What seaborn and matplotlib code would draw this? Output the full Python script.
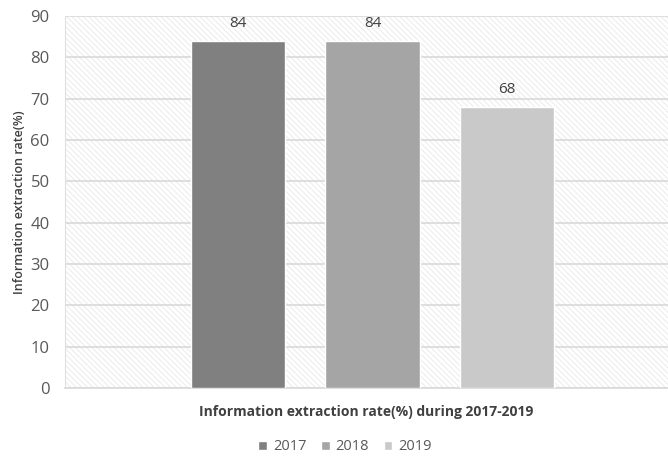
import matplotlib
matplotlib.use("Agg")
import matplotlib.pyplot as plt
import seaborn as sns
import pandas as pd
from matplotlib.patches import Rectangle

years = ["2017", "2018", "2019"]
values = [84, 84, 68]
category = "Information extraction rate(%) during 2017-2019"
colors = ["#808080", "#a5a5a5", "#c9c9c9"]
yticks = [0, 10, 20, 30, 40, 50, 60, 70, 80, 90]

df = pd.DataFrame({"cat": [category] * 3, "year": years, "value": values})

sns.set_style("white")
plt.rcParams["font.family"] = ["Open Sans", "DejaVu Sans"]
plt.rcParams["hatch.color"] = "#ebebeb"
plt.rcParams["hatch.linewidth"] = 0.7

fig = plt.figure(figsize=(6.68, 4.57), dpi=100)
ax = fig.add_axes([65 / 668, 1 - 388 / 457, 603 / 668, 372 / 457])

# hatched background
bg = Rectangle((0, 0), 1, 1, transform=ax.transAxes, facecolor="white",
               edgecolor="#ebebeb", hatch="\\\\\\\\\\\\", linewidth=0, zorder=0)
ax.add_patch(bg)

sns.barplot(data=df, x="cat", y="value", hue="year", palette=colors,
            width=0.67, gap=0.3, ax=ax, zorder=3, legend=True, saturation=1)

for c in ax.containers:
    ax.bar_label(c, labels=[f"{v:g}" for v in c.datavalues], padding=7,
                 fontsize=11, color="#404040")

ax.set_ylim(0, 90)
ax.set_xlim(-0.51, 0.49)
ax.set_yticks(yticks)
ax.set_yticklabels([str(t) for t in yticks], fontsize=12, color="#595959")
ax.tick_params(axis="y", length=0, pad=11)
ax.set_xticks([])
ax.grid(axis="y", color="#d9d9d9", linewidth=1.2, zorder=1)
ax.set_axisbelow(True)
for s in ["top", "right"]:
    ax.spines[s].set_visible(False)
ax.spines["left"].set_color("#e0e0e0")
ax.spines["bottom"].set_color("#d9d9d9")
ax.spines["bottom"].set_linewidth(1.2)

ax.set_ylabel("Information extraction rate(%)", fontsize=9, fontweight="semibold",
              color="#404040", labelpad=3)
ax.set_xlabel(category, fontsize=10, fontweight="bold", color="#404040", labelpad=12)

h, l = ax.get_legend_handles_labels()
ax.legend(h, l, loc="center", bbox_to_anchor=(345 / 668, 1 - 447 / 457),
          bbox_transform=fig.transFigure, ncol=3, frameon=False, fontsize=10.5,
          handlelength=0.6, handleheight=0.6, handletextpad=0.4, columnspacing=1.0,
          labelcolor="#595959")

fig.savefig("out.png", dpi=100)
